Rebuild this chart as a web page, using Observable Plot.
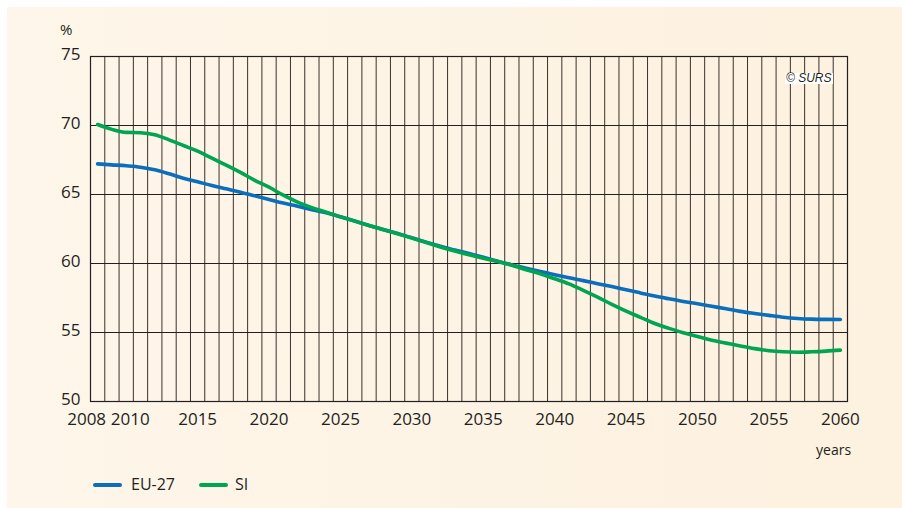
<!DOCTYPE html>
<html>
<head>
<meta charset="utf-8">
<script src="https://cdn.jsdelivr.net/npm/d3@7"></script>
<script src="https://cdn.jsdelivr.net/npm/@observablehq/plot@0.6"></script>
<style>
  html, body { margin: 0; padding: 0; background: #ffffff; }
  #wrap { position: relative; width: 902px; height: 508px; overflow: hidden; }
  #bg { position: absolute; left: 7px; top: 7px; width: 895px; height: 501px;
        background: linear-gradient(to right, #fef6ea, #fdf1df); }
  #chart { position: absolute; left: 0; top: 0; }
  .lbl { position: absolute; font-family: "Open Sans", sans-serif; color: #231f20; line-height: 1; white-space: nowrap; }
  .sw { position: absolute; height: 4px; border-radius: 2px; }
  #surs { position: absolute; left: 785px; top: 73px; background: #ffffff; font-family: "Liberation Sans", Arial, sans-serif;
          font-style: italic; font-size: 12px; line-height: 11px; color: #231f20; padding: 0 1px; }
</style>
</head>
<body>
<div id="wrap">
  <div id="bg"></div>
  <div id="chart"></div>
  <div class="lbl" style="left:60px; top:22px; font-size:15px;">%</div>
  <div class="lbl" style="left:816px; top:443px; font-size:14px;">years</div>
  <div class="sw" id="sw1" style="left:93px; top:483px; width:29px;"></div>
  <div class="lbl" id="lg1" style="left:131px; top:476px; font-size:16px;"></div>
  <div class="sw" id="sw2" style="left:199px; top:483px; width:29px;"></div>
  <div class="lbl" id="lg2" style="left:235px; top:476px; font-size:16px;"></div>
  <div id="surs">© SURS</div>
</div>
<script>
const years = [2008,2009,2010,2011,2012,2013,2014,2015,2016,2017,2018,2019,2020,2021,2022,2023,2024,2025,2026,2027,2028,2029,2030,2031,2032,2033,2034,2035,2036,2037,2038,2039,2040,2041,2042,2043,2044,2045,2046,2047,2048,2049,2050,2051,2052,2053,2054,2055,2056,2057,2058,2059,2060];

const euValues = [67.22,67.15,67.08,66.98,66.79,66.5,66.18,65.92,65.65,65.41,65.17,64.9,64.64,64.38,64.15,63.9,63.67,63.38,63.08,62.76,62.46,62.17,61.86,61.55,61.25,60.97,60.73,60.46,60.17,59.9,59.66,59.42,59.18,58.96,58.76,58.54,58.33,58.1,57.87,57.64,57.44,57.25,57.08,56.9,56.72,56.53,56.38,56.24,56.11,56.02,55.97,55.95,55.94];

const siValues = [70.07,69.72,69.5,69.48,69.33,68.96,68.55,68.14,67.63,67.13,66.6,66.03,65.53,64.95,64.45,64.05,63.72,63.38,63.07,62.75,62.45,62.15,61.84,61.52,61.2,60.9,60.63,60.38,60.14,59.88,59.55,59.25,58.89,58.52,58.05,57.56,57.04,56.55,56.1,55.65,55.3,54.98,54.71,54.44,54.23,54.02,53.83,53.68,53.6,53.57,53.6,53.65,53.72];

const seriesNames = ["EU-27", "SI"];
const seriesColors = ["#0a6ebd", "#00a551"];
const yTicks = [50, 55, 60, 65, 70, 75];
const xTicks = [2015, 2020, 2025, 2030, 2035, 2040, 2045, 2050, 2055, 2060];

const eu = years.map((y, i) => ({year: y, value: euValues[i]}));
const si = years.map((y, i) => ({year: y, value: siValues[i]}));
// vertical grid between years (cells centred on each year)
const gridX = years.slice(0, -1).map(y => y + 0.5);

document.getElementById("sw1").style.background = seriesColors[0];
document.getElementById("sw2").style.background = seriesColors[1];
document.getElementById("lg1").textContent = seriesNames[0];
document.getElementById("lg2").textContent = seriesNames[1];

const chart = Plot.plot({
  width: 902,
  height: 508,
  marginLeft: 90,
  marginRight: 55,
  marginTop: 56,
  marginBottom: 107,
  style: {background: "transparent", fontFamily: "'Open Sans', sans-serif", fontSize: "17px", color: "#231f20"},
  x: {domain: [2007.5, 2060.5]},
  y: {domain: [50, 75]},
  marks: [
    Plot.ruleX(gridX, {stroke: "#3a322b", strokeWidth: 1}),
    Plot.ruleY(yTicks.slice(1, -1), {stroke: "#231f20", strokeWidth: 1}),
    Plot.frame({stroke: "#231f20", strokeWidth: 1.2}),
    Plot.line(eu, {x: "year", y: "value", stroke: seriesColors[0], strokeWidth: 3.6, curve: "monotone-x"}),
    Plot.line(si, {x: "year", y: "value", stroke: seriesColors[1], strokeWidth: 3.6, curve: "monotone-x"}),
    Plot.axisY({ticks: yTicks, tickSize: 0, tickPadding: 10, label: null, dy: -2, fill: "#231f20"}),
    Plot.axisX({ticks: xTicks, tickSize: 0, tickPadding: 11, label: null, tickFormat: d => String(d), fill: "#231f20"}),
    Plot.text([2008], {x: d => d, frameAnchor: "bottom", lineAnchor: "top", dy: 11, dx: -11, text: d => String(d), fill: "#231f20"}),
    Plot.text([2010], {x: d => d, frameAnchor: "bottom", lineAnchor: "top", dy: 11, dx: 4, text: d => String(d), fill: "#231f20"})
  ]
});
document.getElementById("chart").appendChild(chart);
</script>
</body>
</html>
